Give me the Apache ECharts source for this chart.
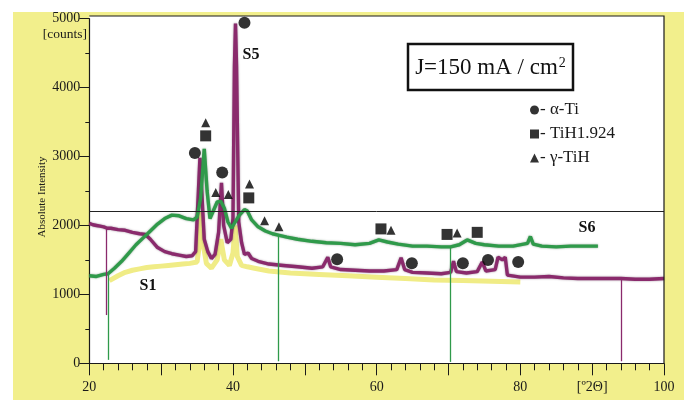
<!DOCTYPE html>
<html>
<head>
<meta charset="utf-8">
<script src="https://cdn.jsdelivr.net/npm/echarts@6/dist/echarts.min.js"></script>
<style>
html,body{margin:0;padding:0;background:#fff;}
#chart{width:688px;height:401px;}
</style>
</head>
<body>
<div id="chart"></div>
<script>
// ---- data ----
const xLabelValues = [20, 40, 60, 80, 90, 100];
const xLabelTexts = ['20', '40', '60', '80', '[º2Θ]', '100'];
const yTicks = [0, 1000, 2000, 3000, 4000, 5000];

// S5 (magenta)
const s5 = [[20,2030],[20.5,2010],[21,2000],[21.5,1990],[22,1980],[22.5,1960],[23,1960],[24,1940],[25,1930],[26,1900],[27,1880],[27.8,1870],[28.5,1800],[29.5,1680],[30.5,1620],[31.5,1590],[32.5,1570],[33.5,1550],[34.3,1560],[34.8,1620],[35.1,2300],[35.4,2980],[35.7,2400],[36.0,1800],[36.5,1620],[37.0,1520],[37.5,1580],[38.0,1900],[38.4,2620],[38.7,2000],[39.2,1750],[39.7,1800],[40.0,2100],[40.2,4300],[40.35,4930],[40.5,4300],[40.8,2050],[41.2,1750],[41.6,1580],[42.1,1600],[42.6,1520],[43.5,1480],[45,1440],[47,1420],[49,1400],[51,1380],[52.5,1400],[53.2,1540],[53.6,1400],[55,1360],[57,1350],[59,1340],[61,1340],[62.8,1360],[63.4,1530],[63.9,1360],[65,1320],[67,1310],[69,1300],[70.3,1320],[70.7,1480],[71.1,1330],[72.5,1310],[74,1330],[74.7,1470],[75.2,1340],[76.5,1360],[76.9,1540],[77.5,1500],[77.9,1540],[78.2,1280],[80,1250],[82,1250],[84,1260],[86,1240],[88,1230],[90,1230],[92,1230],[94,1230],[96,1220],[98,1220],[100,1230]];
// S5 downward glitches: [x, from, to]
const s5Glitches = [[22.4, 1970, 700], [94.1, 1230, 30]];

// S6 (green)
const s6 = [[20,1270],[21,1260],[22,1290],[22.6,1300],[23.5,1380],[24.5,1480],[25.5,1600],[26.5,1720],[27.5,1820],[28.5,1920],[29.5,2020],[30.5,2100],[31.5,2150],[32.5,2140],[33.5,2100],[34.5,2080],[35.0,2120],[35.5,2400],[36.0,3110],[36.4,2500],[36.8,2100],[37.3,2220],[37.8,2340],[38.3,2350],[38.8,2250],[39.3,2050],[39.8,1960],[40.3,2050],[40.9,2150],[41.6,2230],[42.0,2210],[42.6,2080],[43.5,1980],[44.5,1920],[45.5,1880],[46.3,1860],[47.5,1830],[49,1800],[51,1770],[53,1750],[55,1740],[57,1720],[59,1740],[60.3,1790],[61.5,1760],[63,1730],[65,1700],[67,1700],[69,1690],[70.3,1690],[71.5,1720],[72.6,1790],[73.8,1740],[75,1720],[77,1700],[79,1700],[81,1740],[81.4,1840],[81.8,1730],[83,1700],[85,1690],[87,1700],[89,1700],[90.8,1700]];
// S6 downward glitches: [x, from, to]
const s6Glitches = [[22.6, 1300, 50], [46.3, 1860, 30], [70.3, 1690, 20]];

// S1 (yellow)
const s1 = [[22.8,1200],[24,1270],[25,1320],[26,1350],[27,1370],[28,1390],[29,1400],[30,1410],[31,1420],[32,1430],[33,1440],[34,1450],[35,1470],[35.3,1700],[35.6,2200],[35.9,1700],[36.3,1450],[37,1380],[37.8,1500],[38.3,1800],[38.8,1500],[39.5,1420],[40.0,1600],[40.3,2000],[40.6,1550],[41.2,1420],[42,1400],[43,1380],[45,1340],[48,1310],[52,1290],[56,1270],[60,1250],[64,1230],[68,1210],[72,1200],[76,1190],[80,1180]];

// phase markers
const alphaTi = [[34.7,3050],[38.5,2770],[41.6,4940],[54.5,1510],[64.9,1450],[72.0,1450],[75.5,1500],[79.7,1470]];
const tiH1924 = [[36.2,3300],[42.2,2400],[60.6,1950],[69.8,1870],[74.0,1900]];
const gammaTiH = [[36.2,3490],[37.6,2480],[39.35,2450],[42.3,2600],[44.4,2070],[46.4,1980],[62.0,1930],[71.2,1890]];
const phaseNames = ['α-Ti', 'TiH1.924', 'γ-TiH'];

const refLine = 2210;

// ---- chart ----
const serif = "'Liberation Serif','Times New Roman',serif";
const chart = echarts.init(document.getElementById('chart'), null, {renderer: 'canvas'});
const G = {left: 89.3, right: 24, top: 18.7, bottom: 37.7};

function glitchLines(list, color) {
  return list.map(function (g) {
    return [{coord: [g[0], g[1]], lineStyle: {color: color, width: 1.3, type: 'solid'}}, {coord: [g[0], g[2]]}];
  });
}

const MAG = '#8a2a6c', GRN = '#2f9a4a';

const option = {
  animation: false,
  backgroundColor: '#ffffff',
  grid: {left: G.left, right: G.right, top: G.top, bottom: G.bottom, show: false},
  xAxis: {
    type: 'value', min: 20, max: 100, interval: 10,
    axisLine: {lineStyle: {color: '#1a1a1a', width: 1.2}},
    axisTick: {length: 12, lineStyle: {color: '#1a1a1a'}},
    minorTick: {show: true, splitNumber: 5, length: 7, lineStyle: {color: '#1a1a1a'}},
    splitLine: {show: false},
    axisLabel: {
      margin: 17, fontFamily: serif, fontSize: 14, color: '#1a1a1a',
      showMaxLabel: true, showMinLabel: true,
      formatter: function (v) { const i = xLabelValues.indexOf(v); return i >= 0 ? xLabelTexts[i] : ''; }
    }
  },
  yAxis: {
    type: 'value', min: yTicks[0], max: yTicks[yTicks.length - 1], interval: 1000,
    axisLine: {show: true, lineStyle: {color: '#1a1a1a', width: 1.2}},
    axisTick: {show: true, length: 10, lineStyle: {color: '#1a1a1a'}},
    minorTick: {show: true, splitNumber: 2, length: 4, lineStyle: {color: '#1a1a1a'}},
    splitLine: {show: false},
    axisLabel: {margin: 9, fontFamily: serif, fontSize: 14, color: '#1a1a1a',
      formatter: function (v) { return String(v); }}
  },
  legend: {
    left: 530, top: 101, orient: 'vertical', itemGap: 6,
    itemWidth: 9, itemHeight: 9, padding: 0,
    data: [
      {name: phaseNames[0], icon: 'circle'},
      {name: phaseNames[1], icon: 'rect'},
      {name: phaseNames[2], icon: 'triangle'}
    ],
    textStyle: {fontFamily: serif, fontSize: 17, color: '#1a1a1a', padding: [0,0,0,-4], lineHeight: 18},
    formatter: function (n) { return '- ' + n; },
    selectedMode: false
  },
  series: [
    {name: 'S1', type: 'line', data: s1, showSymbol: false, z: 2,
      lineStyle: {color: '#f0ec86', width: 5}},
    {name: 'S5', type: 'line', data: s5, showSymbol: false, z: 3,
      lineStyle: {color: MAG, width: 3.4, shadowColor: 'rgba(60,20,50,0.5)', shadowBlur: 2},
      markLine: {silent: true, symbol: ['none', 'none'], label: {show: false},
        data: glitchLines(s5Glitches, MAG)}},
    {name: 'S6', type: 'line', data: s6, showSymbol: false, z: 4,
      lineStyle: {color: GRN, width: 3.4, shadowColor: 'rgba(20,70,30,0.5)', shadowBlur: 2},
      markLine: {silent: true, symbol: ['none', 'none'], label: {show: false},
        data: [{yAxis: refLine, lineStyle: {color: '#222', width: 1, type: 'solid'}}].concat(glitchLines(s6Glitches, GRN))}},
    {name: phaseNames[0], type: 'scatter', data: alphaTi, symbol: 'circle', symbolSize: 12, z: 6,
      itemStyle: {color: '#000'}},
    {name: phaseNames[1], type: 'scatter', data: tiH1924, symbol: 'rect', symbolSize: 11, z: 6,
      itemStyle: {color: '#000'}},
    {name: phaseNames[2], type: 'scatter', data: gammaTiH, symbol: 'triangle', symbolSize: 9, z: 6,
      itemStyle: {color: '#000'}}
  ],
  graphic: {elements: [
    {type: 'rect', z: -20, silent: true, shape: {x: 13, y: 12, width: 671, height: 388}, style: {fill: '#f2ef8c'}},
    {type: 'rect', z: -10, silent: true, shape: {x: 89.3, y: 16, width: 574.7, height: 347.3}, style: {fill: '#ffffff'}},
    {type: 'polyline', z: 50, silent: true, shape: {points: [[89.3,16],[664,16],[664,363.3]]}, style: {stroke: '#1a1a1a', lineWidth: 1.2, fill: null}},
    {type: 'text', z: 50, x: 87, y: 34, style: {text: '[counts]', font: '13.5px ' + serif, fill: '#1a1a1a', align: 'right', verticalAlign: 'middle'}},
    {type: 'text', z: 50, x: 42, y: 197, rotation: Math.PI / 2, style: {text: 'Absolute Intensity', font: '11px ' + serif, fill: '#1a1a1a', align: 'center', verticalAlign: 'middle'}},
    {type: 'text', z: 50, x: 251, y: 55, style: {text: 'S5', font: 'bold 16px ' + serif, fill: '#111', align: 'center', verticalAlign: 'middle'}},
    {type: 'text', z: 50, x: 148, y: 286, style: {text: 'S1', font: 'bold 16px ' + serif, fill: '#111', align: 'center', verticalAlign: 'middle'}},
    {type: 'text', z: 50, x: 587, y: 228, style: {text: 'S6', font: 'bold 16px ' + serif, fill: '#111', align: 'center', verticalAlign: 'middle'}},
    {type: 'rect', z: 50, silent: true, shape: {x: 408, y: 44, width: 165, height: 46}, style: {fill: '#fff', stroke: '#111', lineWidth: 2.5}},
    {type: 'text', z: 51, x: 490.5, y: 68, style: {
      text: '{a|J=150 mA / cm}{s|2}', align: 'center', verticalAlign: 'middle',
      rich: {a: {font: '23px ' + serif, fill: '#111'}, s: {font: '14px ' + serif, fill: '#111', verticalAlign: 'top', padding: [0,0,10,1]}}
    }}
  ]}
};
chart.setOption(option);
</script>
</body>
</html>
